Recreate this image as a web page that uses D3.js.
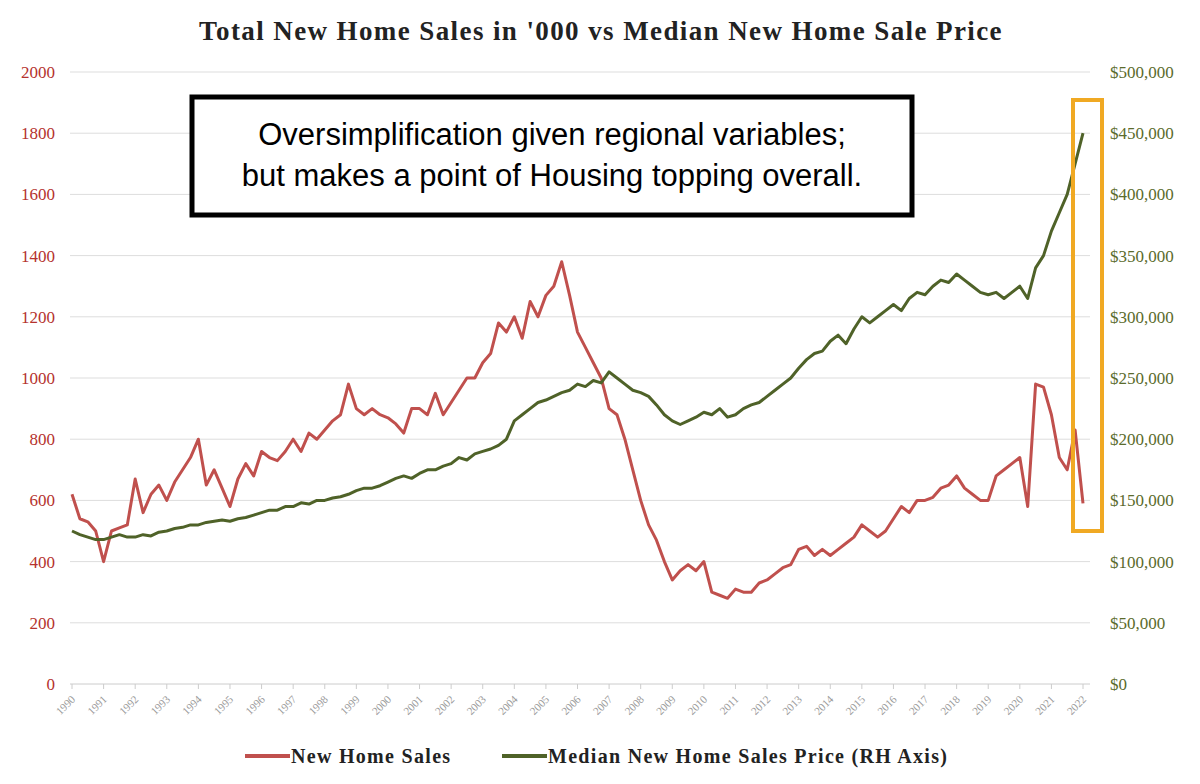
<!DOCTYPE html>
<html><head><meta charset="utf-8">
<script src="https://cdn.jsdelivr.net/npm/d3@7"></script>
<style>body{margin:0;background:#fff}</style>
</head><body>
<script>
// quarterly readings, 1990 Q1 onward
let startYear = 1990;
let sales = [620,540,530,500, 400,500,510,520, 670,560,620,650, 600,660,700,740,
  800,650,700,640, 580,670,720,680, 760,740,730,760, 800,760,820,800,
  830,860,880,980, 900,880,900,880, 870,850,820,900, 900,880,950,880,
  920,960,1000,1000, 1050,1080,1180,1150, 1200,1130,1250,1200, 1270,1300,1380,1270,
  1150,1100,1050,1000, 900,880,800,700, 600,520,470,400, 340,370,390,370,
  400,300,290,280, 310,300,300,330, 340,360,380,390, 440,450,420,440,
  420,440,460,480, 520,500,480,500, 540,580,560,600, 600,610,640,650,
  680,640,620,600, 600,680,700,720, 740,580,980,970, 880,740,700,830, 590];
let price = [125,122,120,118, 118,120,122,120, 120,122,121,124, 125,127,128,130,
  130,132,133,134, 133,135,136,138, 140,142,142,145, 145,148,147,150,
  150,152,153,155, 158,160,160,162, 165,168,170,168, 172,175,175,178,
  180,185,183,188, 190,192,195,200, 215,220,225,230, 232,235,238,240,
  245,243,248,246, 255,250,245,240, 238,235,228,220, 215,212,215,218,
  222,220,225,218, 220,225,228,230, 235,240,245,250, 258,265,270,272,
  280,285,278,290, 300,295,300,305, 310,305,315,320, 318,325,330,328,
  335,330,325,320, 318,320,315,320, 325,315,340,350, 370,385,400,425, 450];
let leftTicks = [0,200,400,600,800,1000,1200,1400,1600,1800,2000];
let rightTicks = [0,50,100,150,200,250,300,350,400,450,500];
let years = d3.range(1990, 2023);

let w = 1200, h = 784;
let svg = d3.select("body").append("svg").attr("width", w).attr("height", h);

let x = d3.scaleLinear().domain([1990, 2022]).range([72, 1083]);
let yL = d3.scaleLinear().domain([0, 2000]).range([684, 72]);
let yR = d3.scaleLinear().domain([0, 500]).range([684, 72]);
let t = i => startYear + i / 4;

svg.append("text").attr("x", 601).attr("y", 40).attr("text-anchor", "middle")
  .attr("font-family", "Liberation Serif, serif").attr("font-weight", "bold")
  .attr("font-size", 27).attr("letter-spacing", 1.4).attr("fill", "#222")
  .text("Total New Home Sales in '000 vs Median New Home Sale Price");

// grid
svg.selectAll(".g").data(leftTicks.slice(1)).enter().append("line")
  .attr("x1", 70).attr("x2", 1090).attr("y1", d => yL(d)).attr("y2", d => yL(d))
  .attr("stroke", "#ddd");
svg.append("line").attr("x1", 70).attr("x2", 1090).attr("y1", 684).attr("y2", 684).attr("stroke", "#ccc");
svg.selectAll(".xt").data(years).enter().append("line")
  .attr("x1", d => x(d)).attr("x2", d => x(d)).attr("y1", 684).attr("y2", 689).attr("stroke", "#ccc");

svg.selectAll(".lt").data(leftTicks).enter().append("text")
  .attr("x", 55).attr("y", d => yL(d) + 6).attr("text-anchor", "end")
  .attr("font-family", "Liberation Serif, serif").attr("font-size", 17).attr("fill", "#b5322e")
  .text(d => d);
svg.selectAll(".rt").data(rightTicks).enter().append("text")
  .attr("x", 1110).attr("y", d => yR(d) + 6)
  .attr("font-family", "Liberation Serif, serif").attr("font-size", 17).attr("fill", "#5b6b2c")
  .text(d => "$" + d3.format(",")(d * 1000));
svg.selectAll(".yl").data(years).enter().append("text")
  .attr("transform", d => `translate(${x(d) + 4},${700}) rotate(-45)`)
  .attr("text-anchor", "end").attr("font-family", "Liberation Serif, serif")
  .attr("font-size", 11).attr("fill", "#999").text(d => d);

let line = (arr, y) => d3.line().x((d, i) => x(t(i))).y(d => y(d))(arr);
svg.append("path").attr("d", line(sales, yL)).attr("fill", "none")
  .attr("stroke", "#c0504d").attr("stroke-width", 3).attr("stroke-linejoin", "round");
svg.append("path").attr("d", line(price, yR)).attr("fill", "none")
  .attr("stroke", "#4f6228").attr("stroke-width", 3).attr("stroke-linejoin", "round");

// annotation
svg.append("rect").attr("x", 192).attr("y", 97).attr("width", 720).attr("height", 118)
  .attr("fill", "#fff").attr("stroke", "#000").attr("stroke-width", 5);
svg.append("text").attr("x", 552).attr("y", 145).attr("text-anchor", "middle")
  .attr("font-family", "Liberation Sans, Arial, sans-serif").attr("font-size", 31)
  .text("Oversimplification given regional variables;");
svg.append("text").attr("x", 552).attr("y", 186).attr("text-anchor", "middle")
  .attr("font-family", "Liberation Sans, Arial, sans-serif").attr("font-size", 31)
  .text("but makes a point of Housing topping overall.");
svg.append("rect").attr("x", 1073).attr("y", 100).attr("width", 29).attr("height", 431)
  .attr("fill", "none").attr("stroke", "#f0a923").attr("stroke-width", 4);

// legend
let lg = [["New Home Sales", "#c0504d", 245], ["Median New Home Sales Price (RH Axis)", "#4f6228", 502]];
lg.forEach(([name, c, lx]) => {
  svg.append("line").attr("x1", lx).attr("x2", lx + 45).attr("y1", 756).attr("y2", 756)
    .attr("stroke", c).attr("stroke-width", 4);
  svg.append("text").attr("x", lx + 46).attr("y", 763).attr("font-family", "Liberation Serif, serif")
    .attr("font-weight", "bold").attr("font-size", 20).attr("letter-spacing", 1.3)
    .attr("fill", "#222").text(name);
});
</script>
</body></html>
